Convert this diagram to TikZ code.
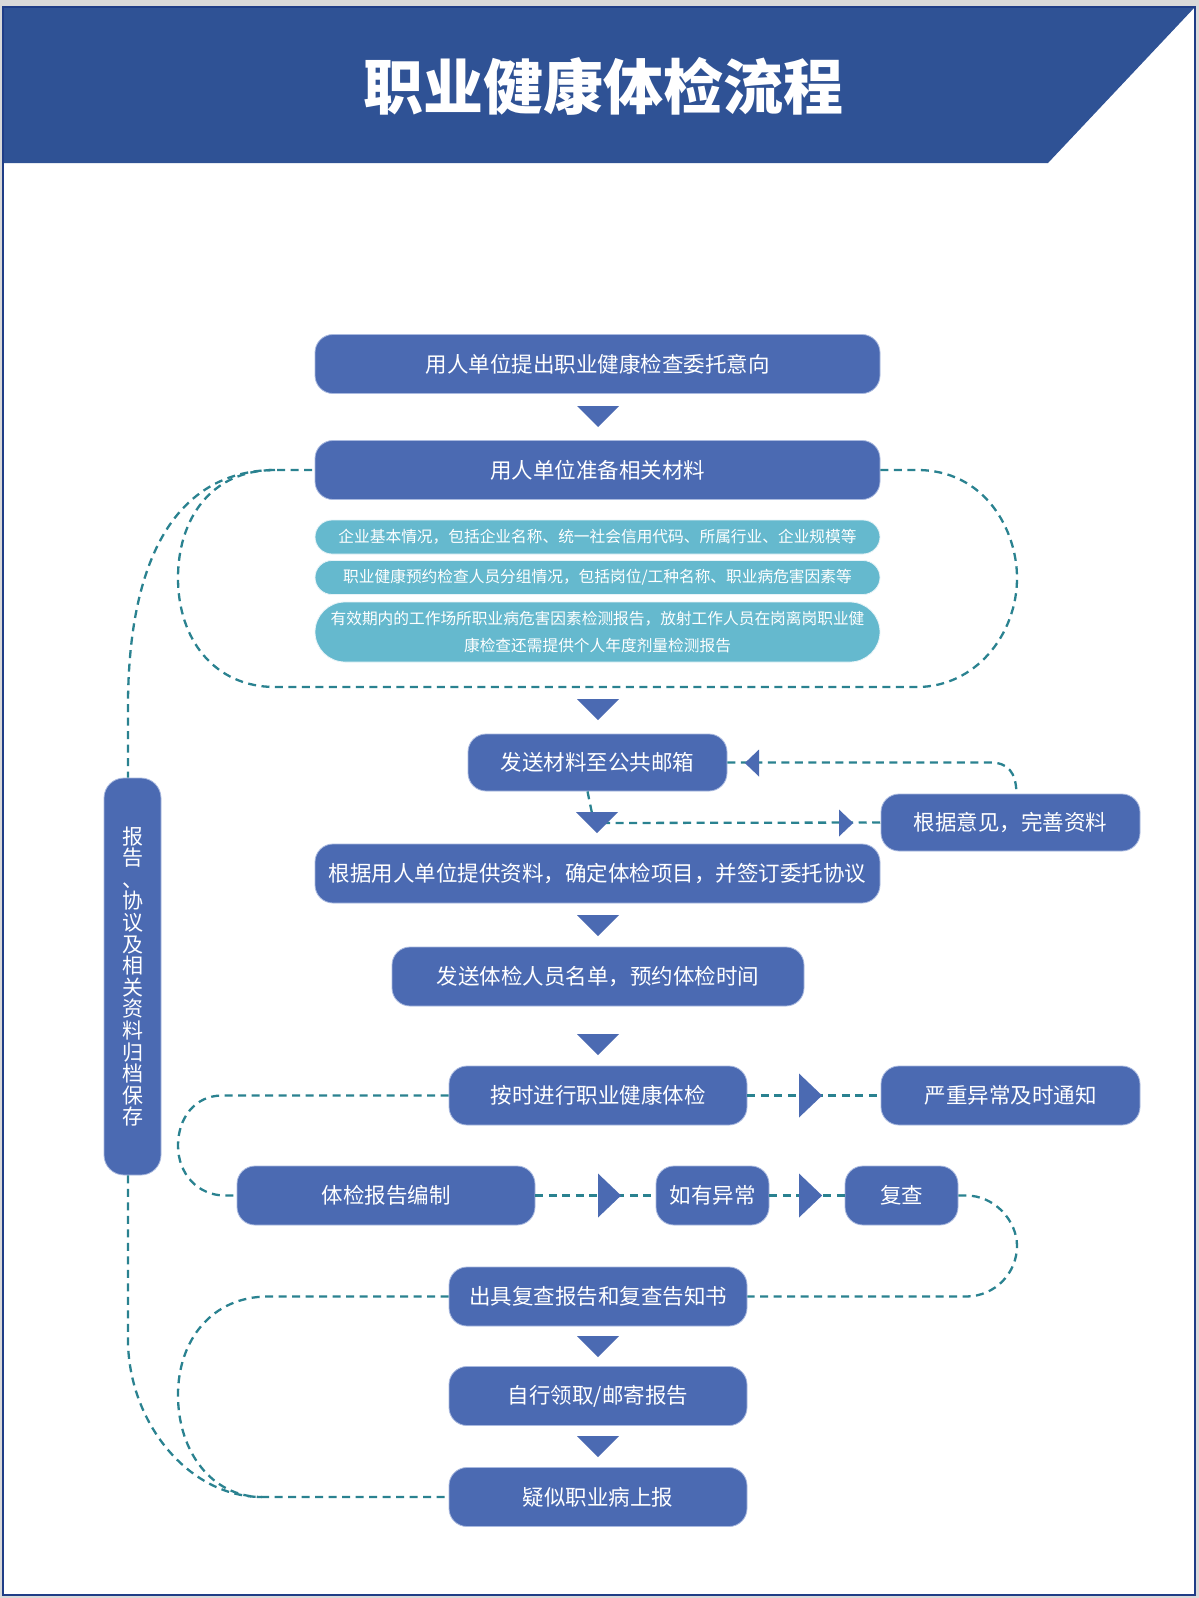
\documentclass[tikz,border=0pt]{standalone}
\usepackage{fontspec}
\newfontfamily\cjk{Noto Sans CJK SC}
\usetikzlibrary{calc}
\definecolor{boxblue}{HTML}{4B6AB2}
\definecolor{boxline}{HTML}{A9B9DF}
\definecolor{tealfill}{HTML}{65B9CE}
\definecolor{dashcol}{HTML}{2A8290}
\definecolor{bannercol}{HTML}{2F5295}
\definecolor{framecol}{HTML}{1F3D87}
\definecolor{bggray}{HTML}{D9D9D9}
\newcommand\tridown[2]{\fill[boxblue] (#1-21,#2) -- (#1+21,#2) -- (#1,#2+21) -- cycle;}
\newcommand\triright[3]{\fill[boxblue] (#1,#2-#3) -- (#1,#2+#3) -- (#1+#3*1.05,#2) -- cycle;}
\newcommand\trileft[3]{\fill[boxblue] (#1,#2-#3) -- (#1,#2+#3) -- (#1-#3*1.05,#2) -- cycle;}
\tikzset{
  mainbox/.style={draw=boxline, line width=0.8pt, fill=boxblue, rounded corners=18pt,
    text=white, font=\cjk\fontsize{21.5}{26}\selectfont, inner sep=0pt,
    minimum height=59pt},
  tealbox/.style={draw=white!85!tealfill, line width=0.8pt, fill=tealfill, rounded corners=17pt,
    text=white, font=\cjk\fontsize{15.7}{26.5}\selectfont, inner sep=0pt,
    minimum width=565pt, minimum height=34pt},
  dline/.style={draw=dashcol, line width=2.3pt, dash pattern=on 8pt off 5.5pt}
}
\begin{document}
\begin{tikzpicture}[x=1pt,y=-1pt]
\useasboundingbox (0,0) rectangle (1199,1598);
\fill[bggray] (0,0) rectangle (1199,1598);
\fill[white] (3,7) rectangle (1195,1595);
\fill[bannercol] (3,7) -- (1195,7) -- (1048,163) -- (3,163) -- cycle;
\draw[framecol, line width=2.5pt] (3,7) rectangle (1195,1595);
\node[font=\cjk\bfseries\fontsize{60}{60}\selectfont, text=white, inner sep=0pt] (title) at (603,86) {职业健康体检流程};

% nodes
\node[mainbox, minimum width=565pt] (A) at (597.5,364) {用人单位提出职业健康检查委托意向};
\node[mainbox, minimum width=565pt] (B) at (597.5,470) {用人单位准备相关材料};
\node[tealbox] (T1) at (597.5,537) {企业基本情况，包括企业名称、统一社会信用代码、所属行业、企业规模等};
\node[tealbox] (T2) at (597.5,577.5) {职业健康预约检查人员分组情况，包括岗位/工种名称、职业病危害因素等};
\node[tealbox, minimum height=60pt, rounded corners=30pt, align=center] (T3) at (597.5,632) {有效期内的工作场所职业病危害因素检测报告，放射工作人员在岗离岗职业健\\康检查还需提供个人年度剂量检测报告};
\node[mainbox, minimum width=259pt, minimum height=57pt] (C) at (597.5,762.5) {发送材料至公共邮箱};
\node[mainbox, minimum width=259pt, minimum height=57pt] (D) at (1010.5,822.5) {根据意见，完善资料};
\node[mainbox, minimum width=565pt] (E) at (597.5,873.5) {根据用人单位提供资料，确定体检项目，并签订委托协议};
\node[mainbox, minimum width=412pt] (F) at (598,976.5) {发送体检人员名单，预约体检时间};
\node[mainbox, minimum width=298pt] (G) at (598,1095.5) {按时进行职业健康体检};
\node[mainbox, minimum width=259pt] (H) at (1010.5,1095.5) {严重异常及时通知};
\node[mainbox, minimum width=298pt] (I) at (386,1195.5) {体检报告编制};
\node[mainbox, minimum width=113pt] (J) at (712.5,1195.5) {如有异常};
\node[mainbox, minimum width=113pt] (K) at (901.5,1195.5) {复查};
\node[mainbox, minimum width=298pt] (L) at (598,1296.5) {出具复查报告和复查告知书};
\node[mainbox, minimum width=298pt] (M) at (598,1396) {自行领取/邮寄报告};
\node[mainbox, minimum width=298pt] (N) at (598,1497) {疑似职业病上报};
\node[mainbox, minimum width=57pt, minimum height=397pt, rounded corners=20pt, align=center,
  font=\cjk\fontsize{21}{21.6}\selectfont] (arch) at (132.5,976.5)
  {报\\告\\、\\协\\议\\及\\相\\关\\资\\料\\归\\档\\保\\存};

\coordinate (joinB) at (275,470);
\coordinate (joinN) at (262,1497);

% dashed connectors
\draw[dline] (B.east) -- (917,470) .. controls (985,470) and (1017,530) .. (1017,578)
  .. controls (1017,635) and (975,687) .. (917,687) -- (275,687)
  .. controls (215,687) and (178,640) .. (178,578)
  .. controls (178,520) and (210,470) .. (joinB) -- (B.west);
\draw[dline] (joinB) .. controls (195,470) and (130,530) .. (128,700) -- ([xshift=-4.5pt]arch.north);
\draw[dline] ([xshift=-4.5pt]arch.south) -- (128,1343) .. controls (130,1425) and (190,1497) .. (joinN) -- (N.west);
\draw[dline] (L.west) -- (268,1296.5) .. controls (212,1296.5) and (178,1340) .. (178,1395)
  .. controls (178,1452) and (212,1497) .. (joinN);
\draw[dline] (G.west) -- (222,1095.5) .. controls (195,1095.5) and (178,1118) .. (178,1145.5)
  .. controls (178,1174) and (198,1195.5) .. (225,1195.5) -- (I.west);
\draw[dline] (K.east) -- (966,1195.5) .. controls (995,1195.5) and (1017,1221) .. (1017,1246)
  .. controls (1017,1273) and (995,1296.5) .. (966,1296.5) -- (L.east);
\draw[dline] (G.east) -- (H.west);
\draw[dline] (I.east) -- (J.west);
\draw[dline] (J.east) -- (K.west);
\draw[dline] (C.east) -- (990,762.5) .. controls (1008,762.5) and (1016,772) .. ([xshift=6pt]D.north);
\draw[dline] ([xshift=-10pt]C.south) -- (594,823) -- (D.west);

% triangles
\tridown{598}{406}
\tridown{598}{699}
\tridown{597}{812}
\tridown{598}{915}
\tridown{598}{1034}
\tridown{598}{1336}
\tridown{598}{1436}
\trileft{759}{763}{13.5}
\triright{839}{823}{13.5}
\triright{799}{1095.5}{22}
\triright{598}{1195.5}{22}
\triright{799}{1195.5}{22}
\end{tikzpicture}
\end{document}
